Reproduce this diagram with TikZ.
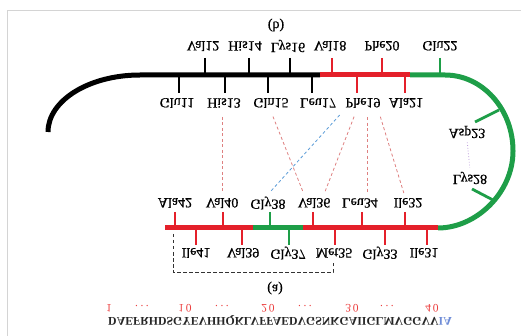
\documentclass[tikz,border=0pt]{standalone}
\usepackage{fontspec}
\setmainfont{Liberation Serif}
\usepackage{graphicx}
\newcommand\myflip[1]{\scalebox{1}[-1]{#1}}
\newcommand\mydots{.\hspace{2.5pt}.\hspace{2.5pt}.}
\definecolor{sred}{RGB}{228,32,42}
\definecolor{sgreen}{RGB}{30,158,72}
\definecolor{pinkd}{RGB}{222,128,128}
\definecolor{blued}{RGB}{90,155,215}
\definecolor{framegray}{RGB}{212,212,212}
\definecolor{seqblue}{RGB}{110,140,215}
\definecolor{numred}{RGB}{235,60,60}
\definecolor{dotviolet}{RGB}{190,160,220}
\begin{document}
\begin{tikzpicture}[x=1pt,y=-1pt,
  strand/.style={line width=5pt},
  tickmark/.style={line width=2.8pt},
  lab/.style={font=\fontsize{14}{14}\selectfont\addfontfeature{FakeBold=0.8}, inner sep=1pt},
  captext/.style={font=\fontsize{14}{14}\selectfont\addfontfeature{FakeBold=0.8}, inner sep=1pt},
  numlab/.style={font=\fontsize{11.5}{12}\selectfont\addfontfeature{LetterSpace=15}, inner sep=0pt, text=numred},
  contact/.style={pinkd, line width=0.8pt, dash pattern=on 3pt off 2.5pt, shorten <=8pt, shorten >=4pt},
  hbond/.style={contact, blued},
  bracket/.style={gray!40!black, line width=0.8pt, dash pattern=on 3.5pt off 2.5pt}]
\useasboundingbox (0,0) rectangle (521,336);
\draw[framegray, line width=1pt] (7,336) -- (7,11) -- (521,11);

% top strand
\draw[strand] (48,132) .. controls (48,100.5) and (89,75) .. (140,75) -- (320,75);
\draw[strand, sred] (320,75) -- (410,75);
\draw[strand, sgreen] (410,75) -- (445,75)
  .. controls (482.5,75) and (513,109) .. (513,151)
  .. controls (513,193) and (476,228) .. (438,228);
% bottom strand
\draw[strand, sred] (165,228) -- (253,228);
\draw[strand, sgreen] (253,228) -- (303,228);
\draw[strand, sred] (303,228) -- (438,228);

% ticks top strand
\foreach \x in {205,249,290} \draw[tickmark] (\x,58) -- (\x,75);
\foreach \x in {332,382} \draw[tickmark, sred] (\x,58) -- (\x,75);
\draw[tickmark, sgreen] (440,58) -- (440,75);
\foreach \x in {179,225,268,312} \draw[tickmark] (\x,75) -- (\x,93);
\foreach \x in {357,405} \draw[tickmark, sred] (\x,75) -- (\x,93);
% ticks on turn
\draw[tickmark, sgreen] (499,110) -- (475,122);
\draw[tickmark, sgreen] (493,200) -- (472,189);
% ticks bottom strand
\foreach \x in {175,223,313,362,405} \draw[tickmark, sred] (\x,212) -- (\x,228);
\draw[tickmark, sgreen] (270,212) -- (270,228);
\foreach \x in {196,242,335,385,427} \draw[tickmark, sred] (\x,228) -- (\x,245);
\draw[tickmark, sgreen] (289,228) -- (289,245);

% labels
\node[captext] (capb) at (276,25) {\myflip{(b)}};
\node[lab] (val12) at (203,46) {\myflip{Val12}};
\node[lab] (his14) at (245,46) {\myflip{His14}};
\node[lab] (lys16) at (288,46) {\myflip{Lys16}};
\node[lab] (val18) at (330,46) {\myflip{Val18}};
\node[lab] (phe20) at (382,46) {\myflip{Phe20}};
\node[lab] (glu22) at (440,46) {\myflip{Glu22}};
\node[lab] (glu11) at (177,103) {\myflip{Glu11}};
\node[lab] (his13) at (224,103) {\myflip{His13}};
\node[lab] (gln15) at (271,103) {\myflip{Gln15}};
\node[lab] (leu17) at (318,103) {\myflip{Leu17}};
\node[lab] (phe19) at (363,103) {\myflip{Phe19}};
\node[lab] (ala21) at (406,103) {\myflip{Ala21}};
\node[lab] (asp23) at (467,132) {\myflip{Asp23}};
\node[lab] (lys28) at (470,178) {\myflip{Lys28}};
\node[lab] (ala42) at (175,203) {\myflip{Ala42}};
\node[lab] (val40) at (222,203) {\myflip{Val40}};
\node[lab] (gly38) at (268,203) {\myflip{Gly38}};
\node[lab] (val36) at (314,203) {\myflip{Val36}};
\node[lab] (leu34) at (360,203) {\myflip{Leu34}};
\node[lab] (ile32) at (408,203) {\myflip{Ile32}};
\node[lab] (ile41) at (196,253) {\myflip{Ile41}};
\node[lab] (val39) at (243,253) {\myflip{Val39}};
\node[lab] (gly37) at (288,253) {\myflip{Gly37}};
\node[lab] (met35) at (334,253) {\myflip{Met35}};
\node[lab] (gly33) at (380,253) {\myflip{Gly33}};
\node[lab] (ile31) at (424,253) {\myflip{Ile31}};
\node[captext] (capa) at (275,288) {\myflip{(a)}};

% contacts
\draw[contact] ([xshift=-2pt]his13.south) -- (val40.north);
\draw[contact] ([xshift=-1pt]gln15.south) -- ([xshift=-9pt]val36.north);
\draw[contact] ([xshift=-6pt]phe19.south) -- ([xshift=9pt]val36.north);
\draw[contact] ([xshift=4pt]phe19.south) -- ([xshift=7pt]leu34.north);
\draw[contact] ([xshift=15pt]phe19.south) -- ([xshift=-3pt]ile32.north);
\draw[hbond] ([xshift=-18pt]phe19.south) -- ([xshift=-1pt]gly38.north);
\draw[dotviolet, line width=0.8pt, dotted, shorten <=3pt, shorten >=3pt] (asp23.south) -- (lys28.north);

% bracket
\coordinate (brA) at (173,234);
\coordinate (brB) at (333,262);
\draw[bracket] (brA) -- (173,272) -- (333,272) -- (brB);

% sequence numbering
\node[numlab] (n1) at (109,308.5) {\myflip{1}};
\node[numlab] (d1) at (142,306.5) {\myflip{\mydots}};
\node[numlab] (n10) at (185,308.5) {\myflip{10}};
\node[numlab] (d2) at (222,306.5) {\myflip{\mydots}};
\node[numlab] (n20) at (268,308.5) {\myflip{20}};
\node[numlab] (d3) at (305,306.5) {\myflip{\mydots}};
\node[numlab] (n30) at (352,308.5) {\myflip{30}};
\node[numlab] (d4) at (387,306.5) {\myflip{\mydots}};
\node[numlab] (n40) at (432,308.5) {\myflip{40}};
\node[font=\fontsize{11.8}{12}\selectfont\bfseries, inner sep=0pt, text=black!85] (seq) at (280,320)
  {\myflip{DAEFRHDSGYEVHHQKLVFFAEDVGSNKGAIIGLMVGGVV\textcolor{seqblue}{IA}}};
\end{tikzpicture}
\end{document}
